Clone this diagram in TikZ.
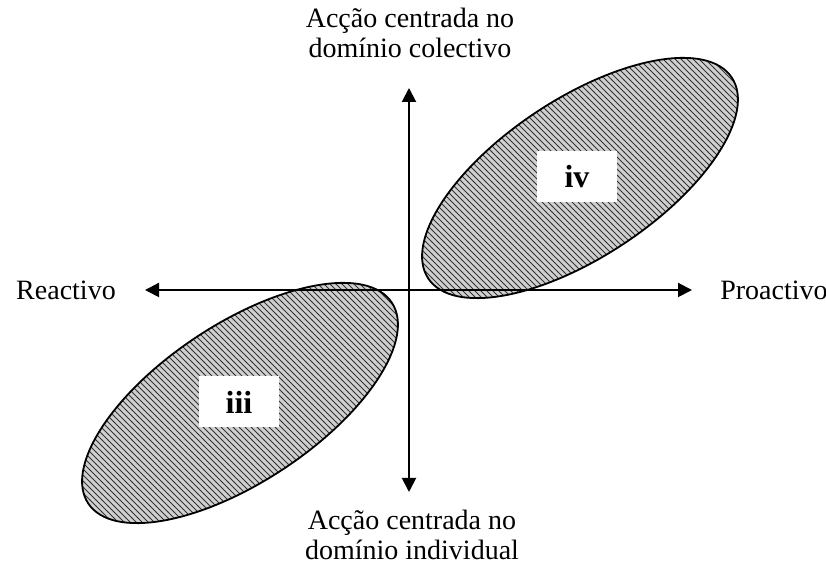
\documentclass[tikz,border=0pt]{standalone}
\usepackage{fontspec}
\setmainfont{Liberation Serif}
\usepackage{tikz}
\usetikzlibrary{arrows.meta,positioning,patterns}
\definecolor{axisblack}{HTML}{000000}
\definecolor{hatchgray}{HTML}{D0D0D0}
\tikzset{
  axislabel/.style={align=center, font=\fontsize{14}{15}\selectfont, inner sep=0pt},
  zonebox/.style={fill=white, draw=none, minimum width=40pt, minimum height=25.5pt, font=\fontsize{16}{18}\selectfont\bfseries},
  zone/.style={draw=black, line width=0.9pt, preaction={fill=hatchgray}, pattern=north west lines, pattern color=black!80},
  axis/.style={{Triangle[length=7pt,width=7pt]}-{Triangle[length=7pt,width=7pt]}, line width=1pt, draw=axisblack}
}
\begin{document}
\begin{tikzpicture}[x=0.5pt, y=0.5pt]
  \useasboundingbox (0,0) rectangle (826,566);
  % shaded zones
  \draw[zone, rotate around={33.5:(580,388)}] (580,388) ellipse [x radius=182, y radius=79];
  \draw[zone, rotate around={33.5:(240,163)}] (240,163) ellipse [x radius=182, y radius=79];
  \node[zonebox] (iv) at (577,389) {iv};
  \node[zonebox] (iii) at (239,164) {iii};
  % axes
  \coordinate (west) at (145,276);
  \coordinate (east) at (692,276);
  \coordinate (north) at (409,478);
  \coordinate (south) at (409,74);
  \draw[axis] (west) -- (east);
  \draw[axis] (south) -- (north);
  \node[axislabel] (reactivo) at (66,276) {Reactivo};
  \node[axislabel] (proactivo) at (774,276) {Proactivo};
  \node[axislabel] (colectivo) at (410,533) {Acção centrada no\\domínio colectivo};
  \node[axislabel] (individual) at (412,31) {Acção centrada no\\domínio individual};
\end{tikzpicture}
\end{document}
